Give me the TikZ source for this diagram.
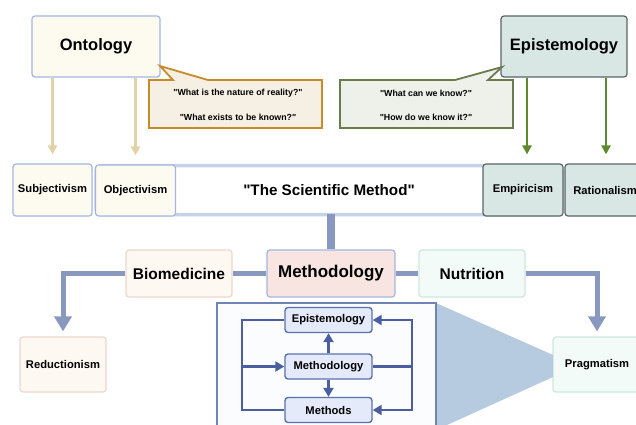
\documentclass[tikz,border=0pt]{standalone}
\usepackage{fontspec}
\setmainfont{Liberation Sans}[Ligatures=TeXOff]
\usetikzlibrary{arrows.meta}
\definecolor{cream}{HTML}{FDFAF0}
\definecolor{lblue}{HTML}{A4B5DF}
\definecolor{ofill}{HTML}{F6EFE3}
\definecolor{oedge}{HTML}{C98A2C}
\definecolor{efill}{HTML}{D8E6E4}
\definecolor{eedge}{HTML}{5B6566}
\definecolor{gfill}{HTML}{EEF0EA}
\definecolor{gedge}{HTML}{6A7C4E}
\definecolor{tanc}{HTML}{E2D3A6}
\definecolor{greenc}{HTML}{5C8A2C}
\definecolor{band}{HTML}{C7D2EA}
\definecolor{conn}{HTML}{8898BF}
\definecolor{mfill}{HTML}{F8E5E2}
\definecolor{bfill}{HTML}{FEF8F2}
\definecolor{bedge}{HTML}{EBD8CD}
\definecolor{nfill}{HTML}{F3FBF8}
\definecolor{nedge}{HTML}{CDE8E0}
\definecolor{insetedge}{HTML}{6F85B7}
\definecolor{insetfill}{HTML}{FBFCFE}
\definecolor{trif}{HTML}{B7CBE0}
\definecolor{ifill}{HTML}{E4EAFA}
\definecolor{iedge}{HTML}{5A71AD}
\definecolor{iarrow}{HTML}{4B5EA0}
\newcommand{\sq}{\symbol{34}}
\begin{document}
\begin{tikzpicture}[x=1pt,y=-1pt,
  box/.style={draw, rounded corners=3pt, align=center, inner sep=0pt, line width=1.2pt},
  big/.style={font=\fontsize{16.5}{19}\selectfont\bfseries},
  mid/.style={font=\fontsize{15.5}{18}\selectfont\bfseries},
  small/.style={font=\fontsize{11.2}{13}\selectfont\bfseries},
  tiny/.style={font=\fontsize{8.8}{10}\selectfont\bfseries, inner sep=0pt},
  tanarrow/.style={draw=tanc, line width=2.4pt, -{Triangle[width=9pt,length=9pt]}, shorten >=9pt},
  greenarrow/.style={draw=greenc, line width=2.4pt, -{Triangle[width=9pt,length=9pt]}, shorten >=9pt},
  thick conn/.style={draw=conn, line width=4.5pt},
  thick arrow/.style={draw=conn, line width=5pt, -{Triangle[width=17pt,length=15pt]}, shorten >=5pt},
  ibox/.style={box, fill=ifill, draw=iedge, minimum width=87pt, minimum height=25pt, small, line width=1.4pt},
  iline/.style={draw=iarrow, line width=2.2pt},
  iarr/.style={iline, -{Triangle[width=10pt,length=9pt]}}
]
\clip (0,0) rectangle (636,424);
\fill[white] (0,0) rectangle (636,424);

% top boxes
\node[box, big, fill=cream, draw=lblue, minimum width=128pt, minimum height=61pt] (onto) at (96,46.5) {Ontology};
\node[box, big, fill=efill, draw=eedge, minimum width=126pt, minimum height=61pt] (epi) at (564,46.5) {Epistemology};

% callouts
\draw[fill=ofill, draw=oedge, line width=1.8pt] (149,80) -- (173,80) -- (160,66) -- (208,80) -- (322,80) -- (322,128) -- (149,128) -- cycle;
\node[tiny] (oq1) at (238,93) {\sq What is the nature of reality?\sq};
\node[tiny] (oq2) at (238,117) {\sq What exists to be known?\sq};
\draw[fill=gfill, draw=gedge, line width=1.8pt] (340,80) -- (455,80) -- (502,67) -- (488,80) -- (513,80) -- (513,128) -- (340,128) -- cycle;
\node[tiny] (eq1) at (426,93) {\sq What can we know?\sq};
\node[tiny] (eq2) at (426,117) {\sq How do we know it?\sq};

% second row
\node[box, fill=white, draw=band, line width=3.5pt, rounded corners=5pt, minimum width=466pt, minimum height=49pt, font=\fontsize{15.2}{18}\selectfont\bfseries] (sci) at (329,190) {\sq The Scientific Method\sq};
\node[box, small, fill=cream, draw=lblue, minimum width=79pt, minimum height=52pt] (subj) at (52.5,190) {Subjectivism};
\node[box, small, fill=cream, draw=lblue, minimum width=80pt, minimum height=51pt] (obj) at (135.5,190.5) {Objectivism};
\node[box, small, fill=efill, draw=eedge, minimum width=80pt, minimum height=52pt] (emp) at (523,190) {Empiricism};
\node[box, small, fill=efill, draw=eedge, minimum width=80pt, minimum height=52pt] (rat) at (605,190) {Rationalism};

% arrows from top
\draw[tanarrow] (onto.south -| subj.north) -- (subj.north);
\draw[tanarrow] (onto.south -| obj.north) -- (obj.north);
\draw[greenarrow] ([xshift=4pt]emp.north |- epi.south) -- ([xshift=4pt]emp.north);
\draw[greenarrow] ([xshift=1pt]rat.north |- epi.south) -- ([xshift=1pt]rat.north);

% third row
\node[box, big, fill=mfill, draw=lblue, minimum width=128pt, minimum height=47pt, font=\fontsize{17}{20}\selectfont\bfseries] (meth) at (331,273.5) {Methodology};
\node[box, mid, fill=bfill, draw=bedge, minimum width=106pt, minimum height=47pt] (bio) at (179,273.5) {Biomedicine};
\node[box, mid, fill=nfill, draw=nedge, minimum width=106pt, minimum height=47pt] (nut) at (472,273.5) {Nutrition};
\draw[draw=conn, line width=7.5pt] (sci.south -| meth.north) ++(0,-2) -- (meth.north);
\draw[thick conn] (bio.east) -- (meth.west);
\draw[thick conn] (meth.east) -- (nut.west);

% bottom boxes
\node[box, small, fill=bfill, draw=bedge, minimum width=86pt, minimum height=55pt] (red) at (63,364.5) {Reductionism};
\node[box, small, fill=nfill, draw=nedge, minimum width=88pt, minimum height=55pt] (prag) at (597,364.5) {Pragmatism};
\draw[thick arrow] (bio.west) -| (red.north);
\draw[thick arrow] (nut.east) -| (prag.north);

% inset
\fill[trif] (436,303) -- (553,355) -- (553,377) -- (436,430) -- cycle;
\draw[draw=insetedge, fill=insetfill, line width=1.3pt] (217,303) rectangle (436,430);
\node[ibox] (iepi) at (328.5,320) {Epistemology};
\node[ibox] (imeth) at (328.5,366.5) {Methodology};
\node[ibox] (imethods) at (328.5,410) {Methods};
\draw[iarr] (imeth.north) -- (iepi.south);
\draw[iarr] (imeth.south) -- (imethods.north);
\coordinate (lx) at (242,366.5);
\coordinate (rx) at (412,366.5);
\draw[iline] (iepi.west) -| (lx) |- (imethods.west);
\draw[iarr] (lx) -- (imeth.west);
\draw[iline] (imeth.east) -- (rx);
\draw[iarr] (rx) |- (iepi.east);
\draw[iarr] (rx) |- (imethods.east);
\end{tikzpicture}
\end{document}
